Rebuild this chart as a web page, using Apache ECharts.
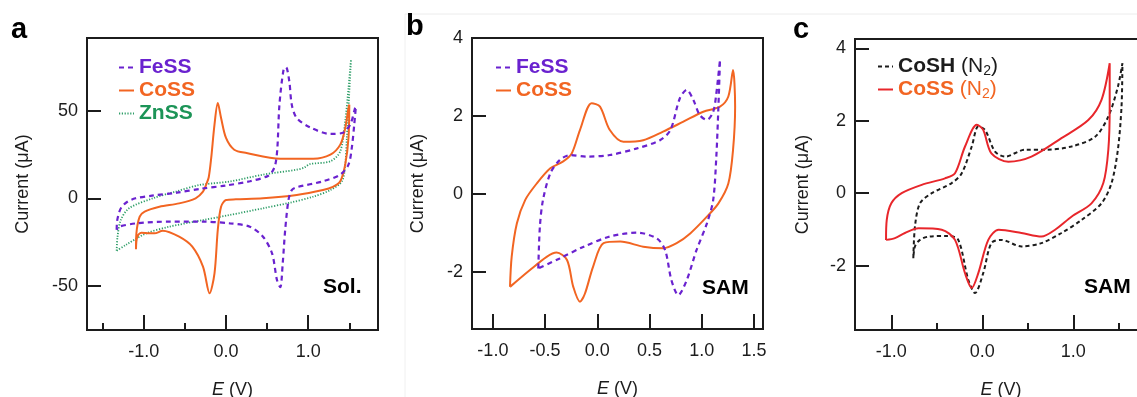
<!DOCTYPE html>
<html>
<head>
<meta charset="utf-8">
<script src="https://cdn.jsdelivr.net/npm/echarts@6/dist/echarts.min.js"></script>
<style>
html, body { margin: 0; padding: 0; background: #fff; }
#chart { width: 1137px; height: 397px; }
</style>
</head>
<body>
<div id="chart"></div>
<script>
// panel a: solution CVs, [E (V), current (uA)] read in scan order
const aFeSS = [
  [-1.33, -18], [-1.325, -13], [-1.30, -8], [-1.27, -5], [-1.20, -2], [-1.10, 0], [-0.90, 1.5],
  [-0.60, 3.2], [-0.30, 5.5], [0.00, 7.3], [0.29, 9.7], [0.50, 12.5], [0.56, 15], [0.60, 19.2],
  [0.625, 28.7], [0.65, 53.4], [0.70, 73.3], [0.73, 74.7], [0.77, 66.7], [0.80, 53.4], [0.86, 45.8],
  [1.02, 40.5], [1.27, 36.7], [1.41, 37.2], [1.51, 42], [1.57, 51.5], [1.58, 52.4],
  [1.56, 42], [1.53, 28.7], [1.49, 19.2], [1.39, 13.5], [1.18, 9.7], [0.86, 6.3], [0.80, 4.7],
  [0.76, -1], [0.72, -18], [0.69, -37], [0.66, -50.7], [0.62, -46.6], [0.56, -31.4], [0.45, -21.9],
  [0.29, -16.2], [0.05, -14.3], [-0.28, -13.3], [-0.69, -13.3], [-1.09, -14.3], [-1.30, -16.2], [-1.33, -18]
];
const aCoSS = [
  [-1.095, -29], [-1.09, -20], [-1.05, -10.5], [-0.99, -7.6], [-0.81, -4.8], [-0.57, -2.9],
  [-0.37, 0], [-0.28, 3.8], [-0.24, 8], [-0.21, 12], [-0.18, 23], [-0.14, 42], [-0.10, 54.3],
  [-0.06, 45.8], [0.00, 34.4], [0.10, 27.7], [0.25, 25.8], [0.66, 22.6], [1.06, 22.6], [1.27, 24.9],
  [1.39, 30.6], [1.45, 40], [1.49, 51.5], [1.50, 53.4],
  [1.49, 34.4], [1.45, 19.2], [1.39, 9.7], [1.30, 6.5], [1.18, 4.7], [0.86, 1.9], [0.45, 0],
  [0.12, -0.6], [0.00, -1], [-0.06, -4.8], [-0.10, -18], [-0.14, -42.8], [-0.20, -54.2],
  [-0.28, -39], [-0.41, -27.6], [-0.57, -21.9], [-0.77, -18.5], [-0.87, -20], [-0.93, -20],
  [-1.03, -19.6], [-1.08, -22], [-1.095, -29]
];
const aZnSS = [
  [-1.33, -29.9], [-1.32, -22], [-1.28, -12.4], [-1.18, -5.7], [-0.89, 0], [-0.60, 4],
  [-0.32, 7.6], [0.05, 9.6], [0.45, 13.5], [0.86, 16.3], [0.95, 17.5], [1.02, 19.5], [1.27, 21.1],
  [1.39, 26.8], [1.45, 43.9], [1.49, 62.9], [1.52, 79],
  [1.47, 34.4], [1.45, 19.2], [1.41, 9.7], [1.27, 4.7], [1.06, 0.9], [0.78, -2.5], [0.45, -5.7],
  [0.05, -9.5], [-0.28, -12.4], [-0.69, -16.2], [-0.97, -20], [-1.22, -26.6], [-1.33, -29.9]
];

// panel b: SAM CVs
const bFeSS = [
  [-0.565, -1.91], [-0.55, -0.84], [-0.52, -0.15], [-0.45, 0.53], [-0.36, 0.87], [-0.26, 1.0],
  [-0.10, 0.96], [0.12, 1.0], [0.38, 1.17], [0.60, 1.38], [0.70, 1.64], [0.79, 2.45], [0.856, 2.67],
  [0.92, 2.41], [0.98, 2.03], [1.05, 1.90], [1.11, 2.11], [1.14, 2.58], [1.175, 3.44],
  [1.16, 2.24], [1.14, 0.96], [1.11, -0.15], [1.05, -0.75], [0.95, -1.44], [0.856, -2.21],
  [0.776, -2.59], [0.71, -2.21], [0.65, -1.44], [0.57, -1.14], [0.38, -0.99], [0.12, -1.09],
  [-0.13, -1.35], [-0.36, -1.65], [-0.565, -1.91]
];
const bCoSS = [
  [-0.836, -2.38], [-0.82, -1.61], [-0.77, -0.75], [-0.69, -0.15], [-0.58, 0.27], [-0.45, 0.66],
  [-0.33, 0.83], [-0.245, 1.04], [-0.166, 1.64], [-0.054, 2.33], [0.026, 2.24], [0.12, 1.64],
  [0.25, 1.34], [0.44, 1.38], [0.63, 1.60], [0.82, 1.85], [1.015, 2.11], [1.175, 2.24],
  [1.255, 2.5], [1.30, 3.18],
  [1.32, 2.24], [1.30, 1.13], [1.255, 0.27], [1.16, -0.24], [1.05, -0.58], [0.89, -1.01],
  [0.76, -1.26], [0.63, -1.39], [0.44, -1.35], [0.22, -1.22], [0.06, -1.26], [-0.04, -1.86],
  [-0.118, -2.55], [-0.166, -2.76], [-0.23, -2.38], [-0.29, -1.69], [-0.39, -1.50], [-0.485, -1.61],
  [-0.645, -1.95], [-0.836, -2.38]
];

// panel c: SAM CVs under N2
const cCoSH = [
  [-0.758, -1.80], [-0.74, -0.92], [-0.685, -0.28], [-0.556, 0], [-0.336, 0.28], [-0.226, 0.55],
  [-0.116, 1.29], [-0.044, 1.84], [0.03, 1.75], [0.14, 1.15], [0.25, 1.01], [0.47, 1.20],
  [0.69, 1.20], [0.98, 1.29], [1.24, 1.56], [1.385, 2.12], [1.49, 2.94], [1.54, 3.59],
  [1.53, 2.39], [1.49, 1.20], [1.42, 0.28], [1.31, -0.28], [1.09, -0.74], [0.87, -1.10],
  [0.65, -1.38], [0.43, -1.47], [0.21, -1.29], [0.10, -1.38], [0.01, -2.21], [-0.08, -2.76],
  [-0.154, -2.39], [-0.264, -1.29], [-0.374, -1.18], [-0.59, -1.20], [-0.685, -1.29], [-0.74, -1.47],
  [-0.758, -1.80]
];
const cCoSS = [
  [-1.058, -1.29], [-1.05, -0.74], [-1.00, -0.28], [-0.886, 0], [-0.666, 0.23], [-0.41, 0.41],
  [-0.30, 0.55], [-0.19, 1.29], [-0.06, 1.89], [0.01, 1.75], [0.10, 1.10], [0.286, 0.87],
  [0.54, 1.01], [0.87, 1.52], [1.165, 2.02], [1.31, 2.58], [1.40, 3.59],
  [1.40, 2.39], [1.385, 1.20], [1.33, 0.28], [1.20, -0.28], [0.98, -0.65], [0.80, -1.01],
  [0.65, -1.20], [0.43, -1.10], [0.18, -1.01], [0.066, -1.29], [-0.044, -2.21], [-0.116, -2.62],
  [-0.19, -2.21], [-0.30, -1.29], [-0.446, -1.01], [-0.70, -0.97], [-0.85, -1.10], [-0.96, -1.24],
  [-1.058, -1.29]
];

const aYTicks = [-50, 0, 50];
const aXMajor = [-1, 0, 1];
const aXMinor = [-1.5, -0.5, 0.5, 1.5];
const bYTicks = [-2, 0, 2, 4];
const bXTicks = [-1, -0.5, 0, 0.5, 1, 1.5];
const cYTicks = [-2, 0, 2, 4];
const cXMajor = [-1, 0, 1];
const cXMinor = [-0.5, 0.5, 1.5];

const FONT = '"Liberation Sans", Arial, Helvetica, sans-serif';
const INK = '#1c1c1c';
const PURPLE = '#6a22cf';
const ORANGE = '#f26522';
const GREEN = '#2f9e68';
const RED = '#e8262b';

const chart = echarts.init(document.getElementById('chart'));

const grids = [
  { left: 87, top: 38, width: 291, height: 292 },
  { left: 472, top: 38, width: 291, height: 291 },
  { left: 855, top: 39, width: 292, height: 291 },
].map(g => ({
  ...g, show: true, borderColor: INK, borderWidth: 2, backgroundColor: 'transparent',
  outerBoundsMode: 'none',
}))

function xMain(gridIndex, min, max, ticks) {
  return {
    type: 'value', gridIndex, min, max, position: 'bottom',
    name: '{i|E} (V)', nameLocation: 'middle', nameGap: 51, nameMoveOverlap: false,
    nameTextStyle: { color: INK, fontSize: 18, fontFamily: FONT, rich: { i: { fontStyle: 'italic', fontSize: 18, fontFamily: FONT, color: INK } } },
    axisLine: { show: false, onZero: false },
    axisTick: { show: true, inside: true, length: 15, customValues: ticks, lineStyle: { color: INK, width: 2 } },
    axisLabel: { customValues: ticks, margin: 13, color: INK, fontSize: 18, fontFamily: FONT, formatter: v => v.toFixed(1) },
    splitLine: { show: false },
  }
}

function xMinor(gridIndex, min, max, ticks) {
  return {
    type: 'value', gridIndex, min, max, position: 'bottom',
    axisLine: { show: false, onZero: false },
    axisTick: { show: true, inside: true, length: 7, customValues: ticks, lineStyle: { color: INK, width: 2 } },
    axisLabel: { show: false },
    splitLine: { show: false },
  }
}

// labels + name
function yMain(gridIndex, min, max, ticks, gap) {
  return {
    type: 'value', gridIndex, min, max, position: 'left',
    name: 'Current (μA)', nameLocation: 'middle', nameGap: gap, nameRotate: 90, nameMoveOverlap: false,
    nameTextStyle: { color: INK, fontSize: 18, fontFamily: FONT },
    axisLine: { show: false, onZero: false },
    axisTick: { show: false },
    axisLabel: { customValues: ticks, margin: 9, color: INK, fontSize: 18, fontFamily: FONT },
    splitLine: { show: false },
  }
}

// inward tick marks only
function yTicks(gridIndex, min, max, ticks) {
  return {
    type: 'value', gridIndex, min, max, position: 'left',
    axisLine: { show: false, onZero: false },
    axisTick: { show: true, inside: true, length: 14, customValues: ticks, lineStyle: { color: INK, width: 2 } },
    axisLabel: { show: false },
    splitLine: { show: false },
  }
}

function cv(name, data, axisIdx, color, width, type) {
  return {
    name, type: 'line', data, xAxisIndex: axisIdx.x, yAxisIndex: axisIdx.y,
    smooth: 0.3, symbol: 'none', silent: true,
    lineStyle: { color, width, type },
    itemStyle: { color, opacity: 0 },
  }
}

function legendFor(left, top, items, extra) {
  return {
    orient: 'vertical', left, top, padding: 0, itemGap: 2,
    itemWidth: 15, itemHeight: 12, selectedMode: false,
    itemStyle: { opacity: 0, borderWidth: 0 },
    textStyle: { fontSize: 21, fontWeight: 'bold', fontFamily: FONT },
    data: items.map(([name, color]) => ({ name, textStyle: { color } })),
    ...extra,
  }
}

const nRich = {
  b: { fontSize: 21, fontWeight: 'bold', fontFamily: FONT },
  n: { fontSize: 21, fontWeight: 'normal', fontFamily: FONT },
  s: { fontSize: 14, fontWeight: 'normal', fontFamily: FONT, padding: [9, 0, 0, 0] },
}

chart.setOption({
  animation: false,
  backgroundColor: '#fff',
  grid: grids,
  xAxis: [
    xMain(0, -1.691, 1.849, aXMajor),
    xMinor(0, -1.691, 1.849, aXMinor),
    xMain(1, -1.2, 1.587, bXTicks),
    xMain(2, -1.399, 1.81, cXMajor),
    xMinor(2, -1.399, 1.81, cXMinor),
  ],
  yAxis: [
    yMain(0, -75.1, 91.4, aYTicks, 55),
    yTicks(0, -75.1, 91.4, aYTicks),
    yMain(1, -3.46, 4, bYTicks, 45),
    yTicks(1, -3.46, 4, bYTicks),
    yMain(2, -3.78, 4.26, cYTicks, 43),
    yTicks(2, -3.78, 4.26, cYTicks),
  ],
  legend: [
    legendFor(118, 57, [['FeSS', PURPLE], ['CoSS', ORANGE], ['ZnSS', '#1c9457']]),
    legendFor(495, 57, [['FeSS', PURPLE], ['CoSS', ORANGE]]),
    legendFor(877, 56, [['CoSH (N2)', INK], ['CoSS (N2)', ORANGE]], {
      itemGap: 1,
      formatter: name => {
        const head = name.split(' ')[0]
        return `{b|${head}} {n|(N}{s|2}{n|)}`
      },
      textStyle: { fontSize: 21, fontFamily: FONT, rich: nRich },
    }),
  ],
  series: [
    cv('ZnSS', aZnSS, { x: 0, y: 0 }, GREEN, 1.8, [1.2, 1.6]),
    cv('CoSS', aCoSS, { x: 0, y: 0 }, ORANGE, 2, 'solid'),
    cv('FeSS', aFeSS, { x: 0, y: 0 }, PURPLE, 2.2, [5, 4]),
    cv('CoSS', bCoSS, { x: 2, y: 2 }, ORANGE, 2, 'solid'),
    cv('FeSS', bFeSS, { x: 2, y: 2 }, PURPLE, 2.2, [5, 4]),
    cv('CoSH (N2)', cCoSH, { x: 3, y: 4 }, INK, 2, [4, 3]),
    cv('CoSS (N2)', cCoSS, { x: 3, y: 4 }, RED, 2, 'solid'),
  ],
  graphic: [
    { type: 'line', shape: { x1: 405, y1: 14, x2: 1137, y2: 14 }, style: { stroke: '#ececec', lineWidth: 1 }, silent: true },
    { type: 'line', shape: { x1: 405, y1: 14, x2: 405, y2: 397 }, style: { stroke: '#f0f0f0', lineWidth: 1 }, silent: true },
    { type: 'text', left: 11, top: 15, style: { text: 'a', fontSize: 29, fontWeight: 'bold', fontFamily: FONT, fill: '#000' } },
    { type: 'text', left: 406, top: 12, style: { text: 'b', fontSize: 29, fontWeight: 'bold', fontFamily: FONT, fill: '#000' } },
    { type: 'text', left: 793, top: 15, style: { text: 'c', fontSize: 29, fontWeight: 'bold', fontFamily: FONT, fill: '#000' } },
    { type: 'text', left: 323, top: 277, style: { text: 'Sol.', fontSize: 21, fontWeight: 'bold', fontFamily: FONT, fill: '#000' } },
    { type: 'text', left: 702, top: 278, style: { text: 'SAM', fontSize: 21, fontWeight: 'bold', fontFamily: FONT, fill: '#000' } },
    { type: 'text', left: 1084, top: 277, style: { text: 'SAM', fontSize: 21, fontWeight: 'bold', fontFamily: FONT, fill: '#000' } },
  ],
})
</script>
</body>
</html>
